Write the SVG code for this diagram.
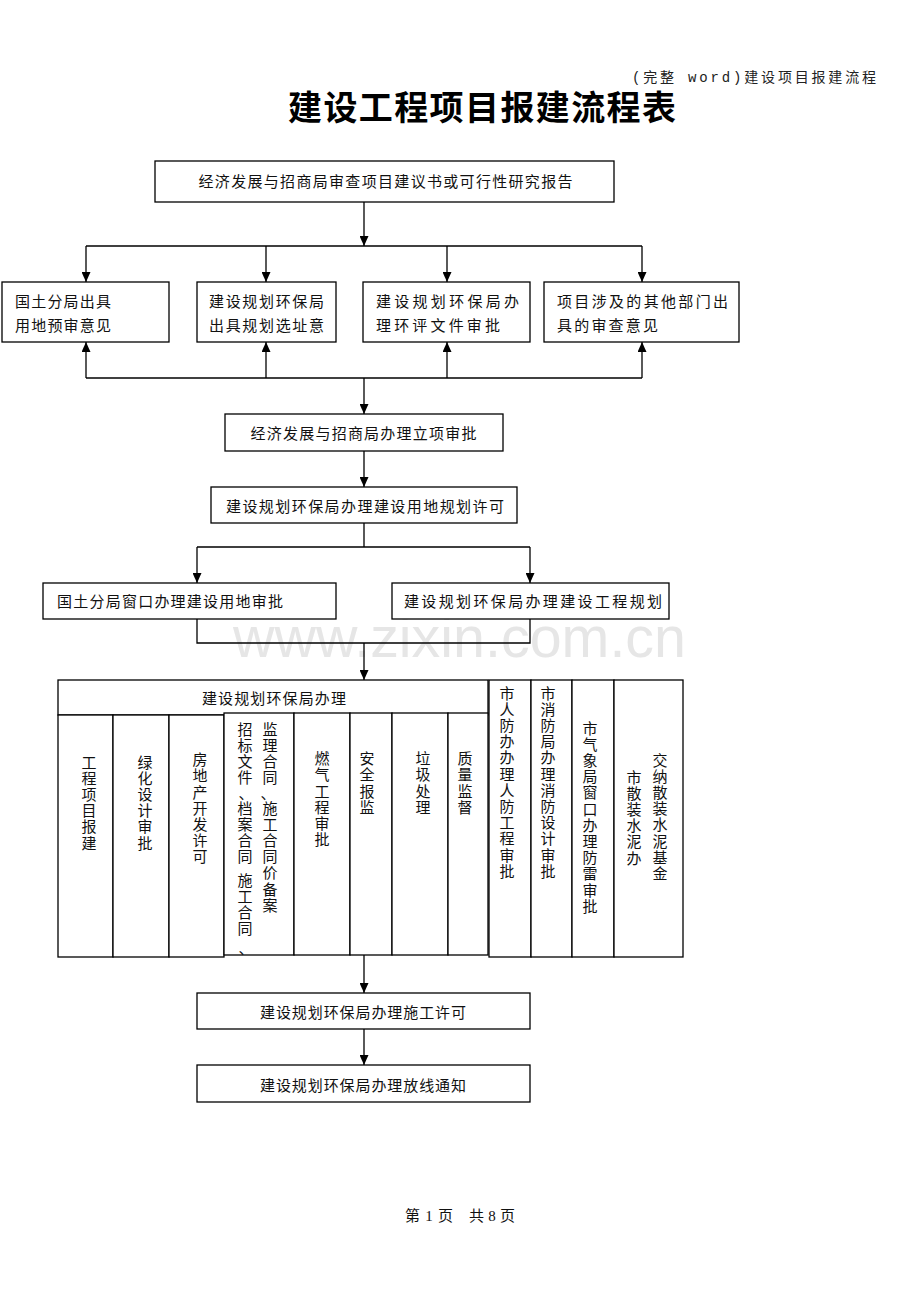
<svg xmlns="http://www.w3.org/2000/svg" width="920" height="1302" viewBox="0 0 920 1302">
<style>
.box{fill:#fff;stroke:#000;stroke-width:1.3}
.t{font-family:"Noto Sans CJK SC","Noto Sans CJK TC",sans-serif;font-size:15px;fill:#111}
.m{text-anchor:middle}
.v{writing-mode:vertical-rl;letter-spacing:1.2px}
.ln{fill:none;stroke:#000;stroke-width:1.3}
.ar{marker-end:url(#ah)}
.ft{font-family:"Liberation Serif","Noto Sans CJK SC",serif;font-size:15px;fill:#111}
</style>
<defs>
<marker id="ah" markerUnits="userSpaceOnUse" markerWidth="10" markerHeight="9" viewBox="0 0 10 9" refX="10" refY="4.5" orient="auto">
<path d="M0,0 L10,4.5 L0,9 z" fill="#000"/>
</marker>
</defs>
<rect width="920" height="1302" fill="#fff"/>
<text x="233" y="657" textLength="453" lengthAdjust="spacingAndGlyphs" style="font-family:'Liberation Sans',Arial,sans-serif;font-size:57px;fill:#e6e6e6">www.zixin.com.cn</text>
<g id="header-note"><text x="632" y="82" textLength="244" lengthAdjust="spacing" style="font-family:'Liberation Mono','Noto Sans CJK SC',monospace;font-size:14px;fill:#222">(完整 word)建设项目报建流程</text></g>
<g id="title"><text x="482" y="120" class="m" textLength="388" lengthAdjust="spacing" style="font-family:'Noto Sans CJK SC',sans-serif;font-size:34px;font-weight:bold;fill:#000">建设工程项目报建流程表</text></g>

<g id="connectors">
<path class="ln ar" d="M364,202 V246"/>
<path class="ln" d="M86,246 H642"/>
<path class="ln ar" d="M86,246 V282"/>
<path class="ln ar" d="M266,246 V282"/>
<path class="ln ar" d="M447,246 V282"/>
<path class="ln ar" d="M642,246 V282"/>
<path class="ln" d="M86,378 H642"/>
<path class="ln ar" d="M86,378 V342"/>
<path class="ln ar" d="M266,378 V342"/>
<path class="ln ar" d="M447,378 V342"/>
<path class="ln ar" d="M642,378 V342"/>
<path class="ln ar" d="M364,378 V414"/>
<path class="ln ar" d="M364,451 V487"/>
<path class="ln" d="M364,523 V547 M197,547 H530"/>
<path class="ln ar" d="M197,547 V583"/>
<path class="ln ar" d="M530,547 V583"/>
<path class="ln" d="M197,619 V643 H530 V619"/>
<path class="ln ar" d="M364,643 V680"/>
<path class="ln ar" d="M364,955 V993"/>
<path class="ln ar" d="M364,1029 V1065"/>
</g>

<g id="n1"><rect class="box" x="155" y="161" width="459" height="41"/><text class="t m" x="385.5" y="186.5" textLength="374">经济发展与招商局审查项目建议书或可行性研究报告</text></g>
<g id="n2a"><rect class="box" x="2" y="282" width="167" height="60"/><text class="t" x="15" y="307" textLength="96">国土分局出具</text><text class="t" x="15" y="331" textLength="96">用地预审意见</text></g>
<g id="n2b"><rect class="box" x="197" y="282" width="139" height="60"/><text class="t" x="209" y="307" textLength="115">建设规划环保局</text><text class="t" x="209" y="331" textLength="115">出具规划选址意</text></g>
<g id="n2c"><rect class="box" x="363" y="282" width="167" height="60"/><text class="t" x="376" y="307" textLength="143">建设规划环保局办</text><text class="t" x="376" y="331" textLength="124">理环评文件审批</text></g>
<g id="n2d"><rect class="box" x="544" y="282" width="195" height="60"/><text class="t" x="557" y="307" textLength="171">项目涉及的其他部门出</text><text class="t" x="557" y="331" textLength="101">具的审查意见</text></g>
<g id="n3"><rect class="box" x="225" y="414" width="278" height="37"/><text class="t m" x="363.5" y="438.5" textLength="226">经济发展与招商局办理立项审批</text></g>
<g id="n4"><rect class="box" x="211" y="487" width="306" height="36"/><text class="t m" x="365" y="511.5" textLength="278">建设规划环保局办理建设用地规划许可</text></g>
<g id="n5a"><rect class="box" x="43" y="583" width="293" height="36"/><text class="t" x="57" y="606.5" textLength="226">国土分局窗口办理建设用地审批</text></g>
<g id="n5b"><rect class="box" x="392" y="583" width="277" height="36"/><text class="t" x="404" y="606.5" textLength="258">建设规划环保局办理建设工程规划</text></g>

<g id="table-header"><rect class="box" x="58" y="680" width="430" height="35"/><text class="t m" x="274" y="704" textLength="144">建设规划环保局办理</text></g>
<g id="c1"><rect class="box" x="58" y="715" width="55" height="242"/><text class="t v" x="89" y="754.5">工程项目报建</text></g>
<g id="c2"><rect class="box" x="113" y="715" width="56" height="242"/><text class="t v" x="145" y="754.5">绿化设计审批</text></g>
<g id="c3"><rect class="box" x="169" y="715" width="55" height="242"/><text class="t v" x="200" y="752">房地产开发许可</text></g>
<g id="c4"><rect class="box" x="224" y="713" width="70" height="242"/>
<text class="t v" x="270" y="721.5">监理合同</text>
<text class="t" x="260.5" y="798.5">、</text>
<text class="t v" x="270" y="800.5">施工合同价备案</text>
<text class="t v" x="245" y="721.5">招标文件</text>
<text class="t" x="238.5" y="798.5">、</text>
<text class="t v" x="245" y="800.5">档案合同</text>
<text class="t v" x="245" y="872.5">施工合同</text>
<text class="t" x="238.5" y="953.5">、</text>
</g>
<g id="c5"><rect class="box" x="294" y="713" width="56" height="242"/><text class="t v" x="322" y="751">燃气工程审批</text></g>
<g id="c6"><rect class="box" x="350" y="713" width="42" height="242"/><text class="t v" x="367" y="751">安全报监</text></g>
<g id="c7"><rect class="box" x="392" y="713" width="56" height="242"/><text class="t v" x="423" y="751">垃圾处理</text></g>
<g id="c8"><rect class="box" x="448" y="713" width="40" height="242"/><text class="t v" x="465" y="751">质量监督</text></g>
<g id="c9"><rect class="box" x="489" y="680" width="42" height="277"/><text class="t v" x="507" y="685.5">市人防办办理人防工程审批</text></g>
<g id="c10"><rect class="box" x="531" y="680" width="41" height="277"/><text class="t v" x="548" y="685.5">市消防局办理消防设计审批</text></g>
<g id="c11"><rect class="box" x="572" y="680" width="42" height="277"/><text class="t v" x="590" y="720.5">市气象局窗口办理防雷审批</text></g>
<g id="c12"><rect class="box" x="614" y="680" width="69" height="277"/><text class="t v" x="660" y="752.5">交纳散装水泥基金</text><text class="t v" x="634" y="769.5">市散装水泥办</text></g>

<g id="n7"><rect class="box" x="197" y="993" width="333" height="36"/><text class="t m" x="363" y="1018" textLength="206">建设规划环保局办理施工许可</text></g>
<g id="n8"><rect class="box" x="197" y="1065" width="333" height="37"/><text class="t m" x="363" y="1091" textLength="206">建设规划环保局办理放线通知</text></g>

<g id="footer"><text class="ft" x="405" y="1221" textLength="48" lengthAdjust="spacing">第 1 页</text><text class="ft" x="469" y="1221" textLength="46" lengthAdjust="spacing">共 8 页</text></g>
</svg>
